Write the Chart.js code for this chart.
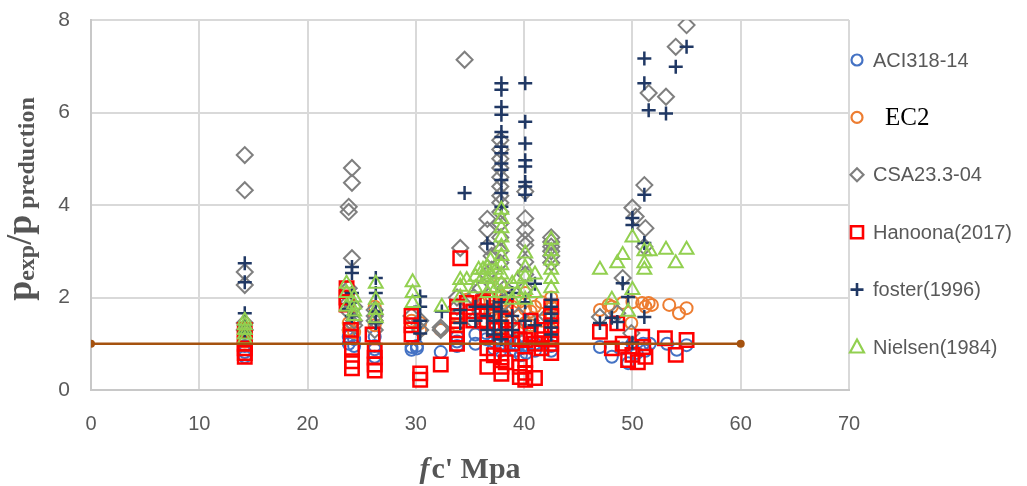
<!DOCTYPE html>
<html>
<head>
<meta charset="utf-8">
<script src="https://cdn.jsdelivr.net/npm/chart.js@4/dist/chart.umd.min.js"></script>
<style>
html,body{margin:0;padding:0;background:#fff;}
#wrap{width:1027px;height:486px;position:relative;}
</style>
</head>
<body>
<div id="wrap"><canvas id="c" width="1027" height="486"></canvas></div>
<script>
// ---------- data ----------
const seriesNames = ['ACI318-14','EC2','CSA23.3-04','Hanoona(2017)','foster(1996)','Nielsen(1984)'];
const xTicks = [0,10,20,30,40,50,60,70];
const yTicks = [0,2,4,6,8];

const aciX = [14.2,14.2,14.2,14.2, 23.8,23.8,23.8,24.3,24.3, 26.2,26.2,26.2,26.2, 29.6,29.6,30.1,30.1, 32.3, 33.8,33.8,33.8, 35.5,35.5,36.5,36.5,37.2,37.2,37.8,37.8,37.8,38.3,38.3, 39.2,39.2,39.7,39.7,39.7,40.2,40.2,41.0,41.0,42.5,42.5,42.5, 47.0,48.1,49.1,49.6,50.0,50.4,51.0,51.2,51.6,53.2,54.1,55.0];
const aciY = [1.10,0.95,0.82,0.72, 1.30,1.15,1.00,1.10,0.95, 1.15,0.95,0.88,0.72, 0.93,0.87,0.90,0.95, 0.82, 1.15,1.05,0.95, 1.20,1.00,1.23,1.10,1.05,0.90,1.20,1.00,0.85,1.10,0.95, 1.00,0.85,1.05,0.90,0.75,0.95,0.80,1.00,0.85,1.10,0.95,0.85, 0.93,0.72,0.90,0.58,1.00,0.80,1.00,0.85,1.00,1.00,0.87,0.97];

const ec2X = [14.2,14.2,14.2,14.2, 23.8,23.8,24.3,24.3, 26.2,26.2,26.2, 29.6,30.4,30.4, 32.3, 33.8,33.8,34.7, 35.8,35.8,36.3,36.3,37.0,37.0,37.0,37.8,37.8,37.8,37.8,37.8,38.3,38.3, 38.9,38.9,39.5,39.5,39.5,40.1,40.1,40.1,40.6,40.6,41.0,41.6,41.6,42.5,42.5,42.5,42.5, 47.0,47.8,48.1,49.1,49.9,50.0,50.9,51.2,51.5,51.8,53.4,54.3,55.0];
const ec2Y = [1.35,1.25,1.15,1.05, 1.45,1.30,1.50,1.25, 1.80,1.60,1.40, 1.50,1.45,1.30, 1.30, 1.60,1.40,1.95, 1.90,1.70,1.95,1.50,2.00,1.80,1.60,2.30,2.05,1.85,1.55,1.35,2.00,1.70, 1.80,1.50,1.90,1.60,1.30,2.10,1.75,1.45,1.70,1.40,1.80,1.90,1.50,2.00,1.80,1.55,1.30, 1.73,1.84,1.80,1.88,1.45,1.90,1.88,1.80,1.88,1.84,1.84,1.66,1.77];

const csaX = [14.2,14.2,14.2,14.2,14.2,14.2, 24.1,24.1,23.8,23.8,24.1,23.8,23.8,23.8,24.3,24.3,24.3, 26.2,26.2,26.2,26.2, 29.6,30.4,30.4, 32.3,32.3, 34.1,34.5,33.8,33.8, 35.3,35.3,36.0,36.0,36.6,36.6,36.6,36.6,37.0,37.0, 37.8,37.8,37.8,37.8,37.8,37.8,37.8,37.8,37.8,37.8,37.8,37.8,37.8, 38.2,38.2, 40.1,40.1,40.1,40.1,40.1,40.1,40.1,40.1, 39.5,39.5,40.6, 42.5,42.5,42.5,42.5,42.5,42.5, 42.1, 47.0,48.6,49.1,49.9,50.0,50.3,51.1,51.2,51.1,51.5,53.1,54.0,55.0];
const csaY = [5.08,4.32,2.55,2.27,1.45,1.30, 4.80,4.48,3.96,3.85,2.85,2.20,1.90,1.70,1.80,1.50,1.40, 1.73,1.50,1.30,1.60, 1.60,1.30,1.50, 1.30,1.35, 3.07,7.14,2.00,1.80, 2.00,1.50,2.20,1.70,3.70,3.46,3.10,2.50,2.90,2.60, 5.40,5.20,5.00,4.80,4.60,4.40,4.20,4.05,3.85,3.60,3.30,3.00,2.75, 2.20,1.90, 4.29,3.71,3.46,3.24,3.13,2.77,2.50,2.20, 1.60,1.30,1.50, 3.30,3.20,3.10,3.00,2.90,2.75, 1.60, 1.58,1.66,2.42,1.23,3.94,3.75,4.43,3.50,3.10,6.42,6.34,7.42,7.89];

const hanX = [14.2,14.2,14.2,14.2,14.2,14.2, 23.6,23.6,23.6,24.0,24.0,24.1,24.1,24.1, 26.2,26.2,26.2,26.2,26.0, 29.6,29.6,29.6,30.4,30.4, 32.3, 34.1,33.8,33.8,33.8,33.8,33.8,34.7, 35.3,35.3,36.2,36.2,36.6,36.6,36.6,36.6,36.6, 37.2,37.2,37.2,37.9,37.9,37.9,37.9,37.9,38.3,38.3,38.3, 38.9,38.9,39.6,39.6,39.6,40.1,40.1,40.1,40.1,40.6,40.6,41.0,41.0,41.6,41.6,41.6, 42.5,42.5,42.5,42.5,42.5,42.5, 47.0,48.1,48.6,49.1,49.6,50.0,50.9,51.0,51.2,50.5,53.0,54.0,55.0];
const hanY = [1.30,1.15,1.00,0.90,0.80,0.72, 2.20,2.00,1.85,1.30,1.15,0.87,0.62,0.47, 0.85,0.70,0.55,0.42,1.20, 1.60,1.40,1.20,0.36,0.22, 0.55, 2.85,1.80,1.60,1.40,1.20,1.00,1.88, 1.70,1.50,1.90,1.50,1.95,1.70,1.20,0.90,0.50, 1.60,1.30,0.75,1.35,1.00,0.70,0.50,0.35,0.60,1.80,1.50, 1.00,1.30,0.28,0.50,1.10,1.08,0.65,0.37,0.22,1.50,1.20,0.26,1.00,1.30,1.10,0.90, 1.80,1.60,1.40,1.20,1.00,0.80, 1.26,0.90,1.44,1.00,0.65,0.76,1.15,0.93,0.72,0.60,1.12,0.76,1.08];

const fosX = [14.2,14.2,14.2,14.2,14.2, 24.1,24.1,24.1,24.1,24.1, 23.8, 26.3,26.3,26.3,26.3, 30.4,30.4,30.4,30.4, 32.4, 34.5,34.1,34.1, 35.5,35.5, 36.6,36.6,36.6,36.6, 37.9,37.9,37.9,37.9,37.9,37.9,37.9,37.9,37.9,37.9,37.9,37.9,37.9,37.9,37.9,37.9,37.9,37.9, 37.2,37.2,37.2, 38.9,38.9,38.9, 40.1,40.1,40.1,40.1,40.1,40.1,40.1,40.1,40.1,40.1, 41.0,41.0, 42.5,42.5,42.5,42.5,42.5,42.5, 47.0,48.1,48.6,49.1,49.6,50.0,50.0,50.0,51.1,51.1,51.1,51.1,51.1,51.5,53.1,54.0,55.0];
const fosY = [2.74,2.33,1.66,1.40,1.25, 2.66,2.53,2.10,1.90,1.60, 1.75, 2.42,2.10,1.70,1.45, 2.02,1.80,1.50,1.22, 1.70, 4.26,1.73,1.45, 1.80,1.50, 3.17,1.80,1.60,1.30, 6.63,6.49,6.12,5.95,5.58,5.47,5.26,5.12,4.90,4.76,4.54,4.26,3.96,1.90,1.70,1.50,1.30,1.10, 1.80,1.50,1.20, 2.10,1.60,1.30, 6.63,5.80,5.33,4.97,4.83,4.50,4.40,4.22,1.90,1.50, 2.30,1.40, 1.95,1.80,1.65,1.50,1.35,1.20, 1.45,1.56,1.47,2.31,2.01,3.72,3.57,1.02,4.22,3.18,1.58,7.17,6.63,6.05,5.98,6.99,7.42];

const nieX = [14.2,14.2,14.2,14.2,14.2, 23.6,23.6,23.6, 24.3,24.3,24.3,24.3, 26.3,26.3,26.3,26.3, 29.7,29.7,29.7, 32.4, 34.1,34.1,34.1, 34.7, 35.5,35.5, 35.8, 36.2,36.2, 36.6,36.6,36.6, 36.9,36.9,36.9, 37.9,37.9,37.9,37.9,37.9,37.9,37.9,37.9,37.9,37.9, 37.4,37.4, 38.9,38.9, 39.4,39.4, 40.1,40.1,40.1,40.1,40.1, 41.0,41.0, 42.5,42.5,42.5,42.5,42.5,42.5, 47.0,48.1,48.6,49.1,49.6,50.0,50.0,51.1,51.1,51.1,51.6,53.1,54.0,55.0];
const nieY = [1.50,1.40,1.30,1.20,1.10, 2.30,2.10,1.80, 2.00,1.85,1.70,1.60, 2.30,1.95,1.73,1.55, 2.33,2.10,1.88, 1.80, 2.38,2.23,2.00, 2.38, 2.45,2.20, 2.60, 2.60,2.45, 2.65,2.40,2.10, 2.80,2.50,2.20, 3.90,3.70,3.50,3.30,3.10,2.90,2.70,2.50,2.30,2.10, 2.60,2.20, 2.30,1.95, 2.40,2.10, 2.95,2.65,2.45,2.16,1.95, 2.50,2.10, 3.25,3.00,2.80,2.60,2.40,2.20, 2.60,1.95,2.74,2.92,1.69,3.30,2.16,3.00,2.74,2.60,3.00,3.03,2.74,3.03];

const refX = [0,60];
const refY = [1,1];

// ---------- build ----------
function pts(xs, ys){ const n=Math.min(xs.length, ys.length); const out=[]; for(let i=0;i<n;i++) out.push({x:xs[i], y:ys[i]}); return out; }

const colors = ['#4472C4','#ED7D31','#7F7F7F','#FF0000','#203864','#92D050'];
const styles = ['circle','circle','rectRot','rect','cross','triangle'];
const radii  = [6,6,8,9.5,7,8];
const widths = [2,2,2,2.5,2.5,2];
const drawOrder = [6,5,4,3,2,1];
const xsAll = [aciX,ec2X,csaX,hanX,fosX,nieX];
const ysAll = [aciY,ec2Y,csaY,hanY,fosY,nieY];

const datasets = seriesNames.map((name,i)=>({
  label:name,
  data:pts(xsAll[i], ysAll[i]),
  showLine:false,
  pointStyle:styles[i],
  pointRadius:radii[i],
  pointBorderWidth:widths[i],
  pointBorderColor:colors[i],
  pointBackgroundColor:'rgba(0,0,0,0)',
  borderColor:colors[i],
  backgroundColor:'rgba(0,0,0,0)',
  order:drawOrder[i]
}));
datasets.push({
  label:'ref',
  type:'line',
  data:pts(refX, refY),
  showLine:true,
  borderColor:'#A5520F',
  borderWidth:2.5,
  pointRadius:4,
  pointBorderWidth:0,
  pointBackgroundColor:'#A5520F',
  order:0
});

const overlay = {
  id:'overlay',
  afterDraw(chart){
    const ctx = chart.ctx, a = chart.chartArea;
    ctx.save();
    // x title
    ctx.fillStyle = '#555555';
    ctx.textBaseline = 'alphabetic';
    ctx.textAlign = 'left';
    const fI = 'italic bold 30px "Liberation Serif"', fB = 'bold 30px "Liberation Serif"';
    ctx.font = fI; const w1 = ctx.measureText('f').width;
    ctx.font = fB; const w2 = ctx.measureText("c' Mpa").width;
    let x0 = (a.left + a.right)/2 - (w1 + w2 + 2)/2;
    ctx.font = fI; ctx.fillText('f', x0, 478);
    ctx.font = fB; ctx.fillText("c' Mpa", x0 + w1 + 2, 478);

    // y title (rotated, with subscripts)
    const segs = [
      {t:'p', big:true}, {t:'exp', big:false}, {t:'/', big:true}, {t:'p', big:true}, {t:' preduction', big:false}
    ];
    const fBig = 'bold 36px "Liberation Serif"', fSub = 'bold 24px "Liberation Serif"';
    let total = 0;
    segs.forEach(s=>{ ctx.font = s.big?fBig:fSub; s.w = ctx.measureText(s.t).width; total += s.w; });
    ctx.translate(31, 199);
    ctx.rotate(-Math.PI/2);
    let cx = -total/2;
    segs.forEach(s=>{ ctx.font = s.big?fBig:fSub; ctx.fillText(s.t, cx, s.big?0:3); cx += s.w; });
    ctx.restore();

    // legend
    ctx.save();
    const lx = 857, ly0 = 60, dy = 57.4;
    seriesNames.forEach((name,i)=>{
      const y = ly0 + i*dy;
      ctx.strokeStyle = colors[i];
      ctx.lineWidth = 2.2;
      ctx.beginPath();
      const st = styles[i];
      if (st==='circle'){ ctx.arc(lx, y, 5.5, 0, Math.PI*2); }
      else if (st==='rectRot'){ ctx.moveTo(lx-6.5,y); ctx.lineTo(lx,y-6.5); ctx.lineTo(lx+6.5,y); ctx.lineTo(lx,y+6.5); ctx.closePath(); }
      else if (st==='rect'){ ctx.rect(lx-6,y-6,12,12); ctx.lineWidth=2.6; }
      else if (st==='cross'){ ctx.moveTo(lx-6.5,y); ctx.lineTo(lx+6.5,y); ctx.moveTo(lx,y-6.5); ctx.lineTo(lx,y+6.5); ctx.lineWidth=2.6; }
      else if (st==='triangle'){ ctx.moveTo(lx,y-7.5); ctx.lineTo(lx+7,y+5.5); ctx.lineTo(lx-7,y+5.5); ctx.closePath(); }
      ctx.stroke();
      ctx.textBaseline = 'middle';
      ctx.textAlign = 'left';
      if (name === 'EC2'){
        ctx.font = '25px "Liberation Serif"';
        ctx.fillStyle = '#000000';
        ctx.fillText(name, 885, y+1);
      } else {
        ctx.font = '20px "Liberation Sans"';
        ctx.fillStyle = '#595959';
        ctx.fillText(name, 873, y+1);
      }
    });
    ctx.restore();
  }
};

new Chart(document.getElementById('c'), {
  type:'scatter',
  data:{datasets},
  options:{
    responsive:false,
    animation:false,
    devicePixelRatio:1,
    layout:{padding:{left:0, right:178, top:20, bottom:0}},
    plugins:{legend:{display:false}, tooltip:{enabled:false}, title:{display:false}},
    scales:{
      x:{
        type:'linear', min:0, max:70,
        afterBuildTicks(s){ s.ticks = xTicks.map(v=>({value:v})); },
        afterFit(s){ s.height = 96; s.paddingLeft = 0; s.paddingRight = 0; },
        ticks:{ font:{family:'"Liberation Sans"', size:20}, color:'#595959', padding:22, maxRotation:0 },
        grid:{ color:'#D9D9D9', lineWidth:2, drawTicks:false },
        border:{ display:true, color:'#C8C8C8', width:2 }
      },
      y:{
        type:'linear', min:0, max:8,
        afterBuildTicks(s){ s.ticks = yTicks.map(v=>({value:v})); },
        afterFit(s){ s.width = 91; s.paddingTop = 0; s.paddingBottom = 0; },
        ticks:{ font:{family:'"Liberation Sans"', size:21}, color:'#595959', padding:21 },
        grid:{ color:'#D9D9D9', lineWidth:2, drawTicks:false },
        border:{ display:true, color:'#C8C8C8', width:2 }
      }
    }
  },
  plugins:[overlay]
});
</script>
</body>
</html>
